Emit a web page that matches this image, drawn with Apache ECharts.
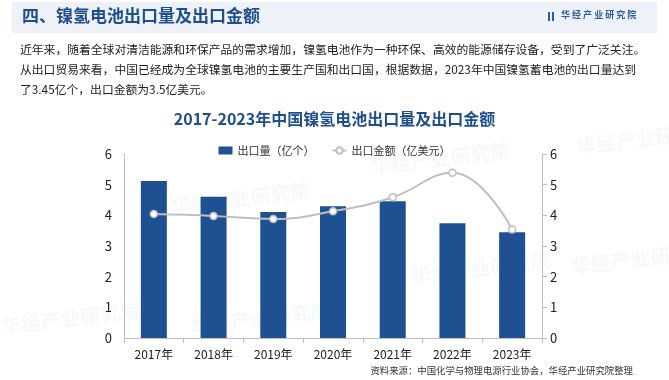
<!DOCTYPE html>
<html><head><meta charset="utf-8">
<script src="https://cdn.jsdelivr.net/npm/echarts@6/dist/echarts.min.js"></script>
<style>html,body{margin:0;padding:0;background:#fff}#c{width:669px;height:380px}</style>
</head><body><div id="c"></div>
<script>
const categories = ['2017年','2018年','2019年','2020年','2021年','2022年','2023年'];
const exportVolume = [5.12, 4.61, 4.11, 4.30, 4.46, 3.74, 3.45];
const exportValue = [4.04, 3.98, 3.88, 4.13, 4.59, 5.39, 3.54];
const seriesNames = ['出口量（亿个）', '出口金额（亿美元）'];
const headerTitle = '四、镍氢电池出口量及出口金额';
const chartTitle = '2017-2023年中国镍氢电池出口量及出口金额';
const paragraph = [
  '近年来，随着全球对清洁能源和环保产品的需求增加，镍氢电池作为一种环保、高效的能源储存设备，受到了广泛关注。',
  '从出口贸易来看，中国已经成为全球镍氢电池的主要生产国和出口国，根据数据，2023年中国镍氢蓄电池的出口量达到',
  '了3.45亿个，出口金额为3.5亿美元。'
];
const sourceText = '资料来源：中国化学与物理电源行业协会，华经产业研究院整理';
const logoText = '华 经 产 业 研 究 院';
const watermark = '华经产业研究院';

const FONT = '"Noto Sans CJK SC", "Noto Sans", sans-serif';
const chart = echarts.init(document.getElementById('c'));
const wm = (x, y) => ({type:'text', left:x, top:y, rotation:0.12, z:0, silent:true,
  style:{text:watermark, font:'bold 20px '+FONT, fill:'rgba(120,140,180,0.06)'}});
chart.setOption({
  backgroundColor:'#fff',
  animation:false,
  graphic:[
    {type:'rect', shape:{x:12,y:2,width:645,height:31}, style:{fill:'#eef2f8'}, z:0},
    {type:'text', left:22, top:7, style:{text:headerTitle, font:'bold 17px '+FONT, fill:'#1f4e8c'}},
    {type:'rect', shape:{x:548,y:12,width:2,height:9}, style:{fill:'#2d5ca8'}},
    {type:'rect', shape:{x:552,y:12,width:2,height:9}, style:{fill:'#2d5ca8'}},
    {type:'text', left:561, top:10, style:{text:logoText, font:'bold 9px '+FONT, fill:'#2d5ca8'}},
    {type:'text', left:20, top:40, style:{text:paragraph.join('\n'), font:'11.8px '+FONT, fill:'#222', lineHeight:20}},
    {type:'text', right:36, top:366, style:{text:sourceText, font:'9.4px '+FONT, fill:'#333'}},
    wm(170,180), wm(410,250), wm(190,300), wm(0,300), wm(575,120), wm(570,240), wm(370,140)
  ],
  title:{text:chartTitle, left:'center', top:106,
    textStyle:{fontFamily:FONT, fontSize:16, fontWeight:'bold', color:'#1f4e8c'}},
  legend:{top:140, left:'center', itemGap:17, itemWidth:14, itemHeight:8,
    textStyle:{fontFamily:FONT, fontSize:11, color:'#333'},
    data:[{name:seriesNames[0], icon:'rect'}, {name:seriesNames[1]}]},
  grid:{left:124, right:127, top:154, bottom:42},
  xAxis:{type:'category', data:categories, boundaryGap:true,
    axisLine:{lineStyle:{color:'#bfbfbf'}},
    axisTick:{show:true, lineStyle:{color:'#bfbfbf'}, length:5},
    axisLabel:{fontFamily:FONT, fontSize:12, color:'#222', margin:10}},
  yAxis:[
    {type:'value', min:0, max:6, interval:1, splitLine:{show:false},
      axisLine:{show:true, lineStyle:{color:'#bfbfbf'}}, axisTick:{show:false},
      axisLabel:{fontFamily:FONT, fontSize:13, color:'#222', margin:12}},
    {type:'value', min:0, max:6, interval:1, splitLine:{show:false}, position:'right',
      axisLine:{show:true, lineStyle:{color:'#bfbfbf'}},
      axisTick:{show:true, length:5, lineStyle:{color:'#bfbfbf'}},
      axisLabel:{fontFamily:FONT, fontSize:13, color:'#222', margin:8}}
  ],
  series:[
    {name:seriesNames[0], type:'bar', data:exportVolume, barWidth:26, yAxisIndex:0,
      itemStyle:{color:'#1f5091'}, z:2},
    {name:seriesNames[1], type:'line', data:exportValue, yAxisIndex:1, smooth:0.45,
      symbol:'circle', symbolSize:7, showAllSymbol:true,
      lineStyle:{color:'#bfbfbf', width:2},
      itemStyle:{color:'#ffffff', borderColor:'#bfbfbf', borderWidth:1.5}, z:3}
  ]
});
</script></body></html>
